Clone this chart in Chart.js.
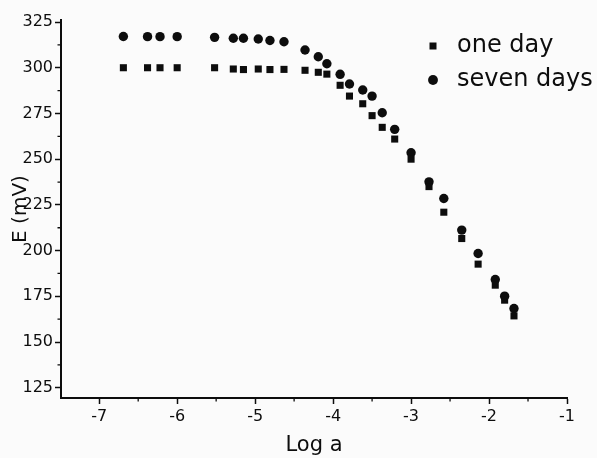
<!DOCTYPE html>
<html>
<head>
<meta charset="utf-8">
<script src="https://cdn.jsdelivr.net/npm/chart.js@4.4.1/dist/chart.umd.min.js"></script>
<style>
  html, body { margin: 0; padding: 0; background: #fbfbfb; }
</style>
</head>
<body>
<canvas id="potChart" width="597" height="458"></canvas>
<script>
// log a (x) - same for both series
var logA = [-6.69, -6.38, -6.22, -6.00, -5.52, -5.28, -5.15, -4.96, -4.81, -4.63, -4.36, -4.19, -4.08, -3.91,
  -3.79, -3.62, -3.50, -3.37, -3.21, -3.00, -2.77, -2.58, -2.35, -2.14, -1.92, -1.80, -1.68];
// E (mV)
var oneDay = [300, 300, 300, 300, 300, 299.3, 299, 299.3, 299, 299.1, 298.6, 297.5, 296.5, 290.4,
  284.5, 280.3, 273.8, 267.4, 261, 250, 235, 221, 206.6, 192.6, 181.1, 172.9, 164.3];
var sevenDays = [317.1, 317, 317, 317, 316.6, 316.1, 316.1, 315.7, 314.9, 314.2, 309.7, 306, 302.2, 296.4,
  291.1, 287.8, 284.5, 275.4, 266.3, 253.5, 237.6, 228.5, 211.2, 198.4, 184.2, 175.1, 168.3];

var xTicks = [-7, -6, -5, -4, -3, -2, -1];
var yTicks = [125, 150, 175, 200, 225, 250, 275, 300, 325];
var xMinor = [-6.5, -5.5, -4.5, -3.5, -2.5, -1.5];
var yMinor = [137.5, 162.5, 187.5, 212.5, 237.5, 262.5, 287.5, 312.5];

function toPoints(ys) {
  return logA.map(function (x, i) { return { x: x, y: ys[i] }; });
}

var ink = "#0d0d0d";
var fontFamily = "DejaVu Sans";

// white-ish paper + short minor tick marks
var paper = {
  id: "paper",
  beforeDraw: function (chart) {
    var ctx = chart.ctx;
    ctx.save();
    ctx.fillStyle = "#fbfbfb";
    ctx.fillRect(0, 0, chart.width, chart.height);
    ctx.restore();
  },
  afterDraw: function (chart) {
    var ctx = chart.ctx, xs = chart.scales.x, ys = chart.scales.y;
    ctx.save();
    ctx.strokeStyle = ink;
    ctx.lineWidth = 1.3;
    ctx.beginPath();
    xMinor.forEach(function (v) {
      var px = xs.getPixelForValue(v);
      ctx.moveTo(px, xs.top);
      ctx.lineTo(px, xs.top + 3.5);
    });
    yMinor.forEach(function (v) {
      var py = ys.getPixelForValue(v);
      ctx.moveTo(ys.right, py);
      ctx.lineTo(ys.right - 3.5, py);
    });
    ctx.stroke();
    ctx.restore();
  }
};

// legend sits inside the plot, top right
var legendSpot = {
  id: "legendSpot",
  afterLayout: function (chart) {
    var lg = chart.legend;
    var w = lg.width, h = lg.height;
    lg.left = 411;
    lg.top = 24;
    lg.right = lg.left + w;
    lg.bottom = lg.top + h;
  }
};

var ctx = document.getElementById("potChart").getContext("2d");
var myChart = new Chart(ctx, {
  type: "scatter",
  data: {
    datasets: [
      {
        label: "one day",
        data: toPoints(oneDay),
        pointStyle: "rect",
        pointRadius: 5,
        backgroundColor: ink,
        borderColor: ink,
        borderWidth: 0
      },
      {
        label: "seven days",
        data: toPoints(sevenDays),
        pointStyle: "circle",
        pointRadius: 4.7,
        backgroundColor: ink,
        borderColor: ink,
        borderWidth: 0
      }
    ]
  },
  options: {
    responsive: false,
    animation: false,
    layout: { padding: { left: 0, top: 20, right: 30, bottom: 0 } },
    scales: {
      x: {
        type: "linear",
        min: -7.49,
        max: -1,
        afterFit: function (s) { s.height = 60; },
        afterBuildTicks: function (s) { s.ticks = xTicks.map(function (v) { return { value: v }; }); },
        grid: { drawOnChartArea: false, drawTicks: true, tickLength: 6, tickWidth: 1.5, tickColor: ink },
        border: { display: true, color: ink, width: 2 },
        ticks: { color: ink, padding: 3, font: { family: fontFamily, size: 16 } },
        title: {
          display: true,
          text: "Log a",
          color: ink,
          font: { family: fontFamily, size: 21 },
          padding: { top: 0, bottom: 0 }
        }
      },
      y: {
        min: 119.4,
        max: 326.1,
        afterFit: function (s) { s.width = 61; },
        afterBuildTicks: function (s) { s.ticks = yTicks.map(function (v) { return { value: v }; }); },
        grid: { drawOnChartArea: false, drawTicks: true, tickLength: 6, tickWidth: 1.5, tickColor: ink },
        border: { display: true, color: ink, width: 2 },
        ticks: { color: ink, padding: 2, font: { family: fontFamily, size: 16 } },
        title: {
          display: true,
          text: "E (mV)",
          color: ink,
          font: { family: fontFamily, size: 20 },
          padding: { top: 9, bottom: 0 }
        }
      }
    },
    plugins: {
      legend: {
        display: true,
        position: "chartArea",
        align: "start",
        labels: {
          usePointStyle: true,
          boxHeight: 7,
          padding: 10,
          color: ink,
          font: { family: fontFamily, size: 24 }
        }
      },
      tooltip: { enabled: false }
    }
  },
  plugins: [paper, legendSpot]
});
</script>
</body>
</html>
